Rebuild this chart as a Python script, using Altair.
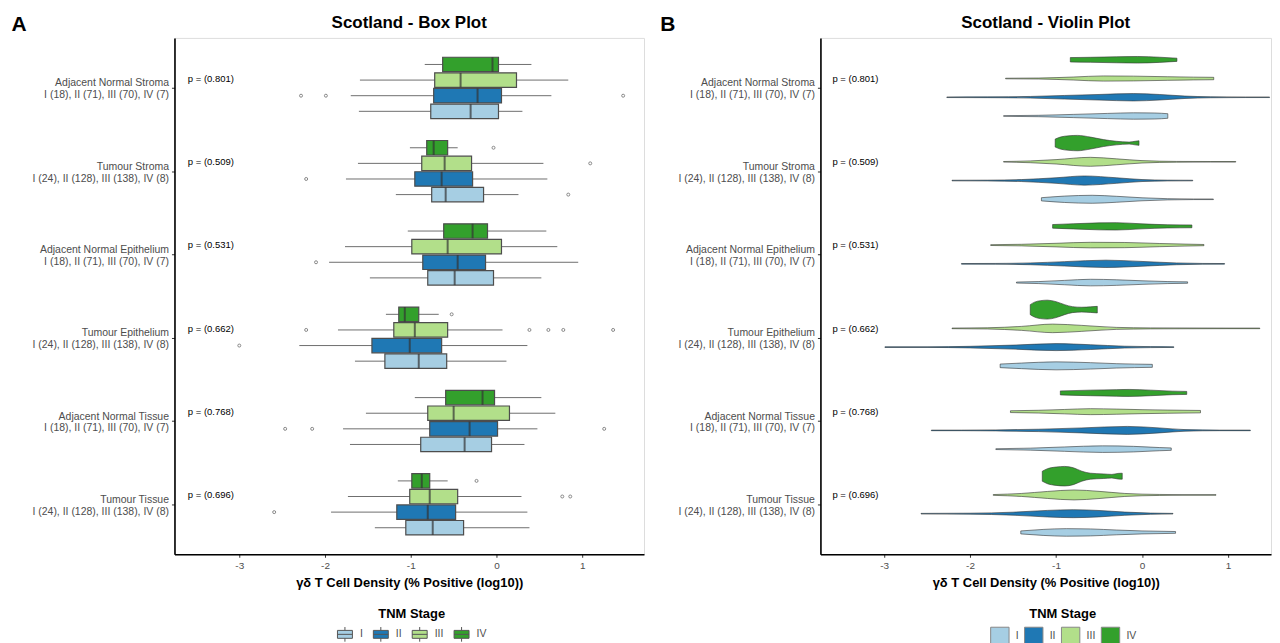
import json
import altair as alt
import pandas as pd

FONT = "Liberation Sans"

categories = ["Adjacent Normal Stroma", "Tumour Stroma", "Adjacent Normal Epithelium",
              "Tumour Epithelium", "Adjacent Normal Tissue", "Tumour Tissue"]
count_labels = ["I (18), II (71), III (70), IV (7)", "I (24), II (128), III (138), IV (8)",
                "I (18), II (71), III (70), IV (7)", "I (24), II (128), III (138), IV (8)",
                "I (18), II (71), III (70), IV (7)", "I (24), II (128), III (138), IV (8)"]
p_values = ["0.801", "0.509", "0.531", "0.662", "0.768", "0.696"]
stages = ["I", "II", "III", "IV"]
stage_colors = ["#a6cee3", "#1f78b4", "#b2df8a", "#33a02c"]
x_ticks = [-3, -2, -1, 0, 1]

# five-number summaries (lower whisker, Q1, median, Q3, upper whisker), stages I, II, III, IV
box_adjacent_normal_stroma = [[-1.605, -0.767, -0.302, 0.023, 0.302], [-1.70, -0.733, -0.221, 0.058, 0.64],
                              [-1.593, -0.721, -0.419, 0.233, 0.837], [-0.837, -0.628, -0.047, 0.023, 0.407]]
box_tumour_stroma = [[-1.174, -0.756, -0.593, -0.151, 0.256], [-1.756, -0.953, -0.640, -0.279, 0.593],
                     [-1.616, -0.872, -0.605, -0.291, 0.547], [-1.01, -0.814, -0.733, -0.57, -0.453]]
box_adjacent_normal_epithelium = [[-1.477, -0.802, -0.488, -0.035, 0.523], [-1.953, -0.860, -0.453, -0.128, 0.953],
                                  [-1.767, -0.988, -0.570, 0.058, 0.709], [-1.035, -0.616, -0.279, -0.105, 0.581]]
box_tumour_epithelium = [[-1.651, -1.302, -0.907, -0.581, 0.116], [-2.30, -1.453, -1.012, -0.640, 0.36],
                         [-1.849, -1.198, -0.953, -0.570, 0.07], [-1.29, -1.14, -1.07, -0.907, -0.674]]
box_adjacent_normal_tissue = [[-1.709, -0.884, -0.372, -0.058, 0.326], [-1.79, -0.779, -0.314, 0.012, 0.477],
                              [-1.523, -0.802, -0.500, 0.151, 0.686], [-0.953, -0.593, -0.163, -0.023, 0.523]]
box_tumour_tissue = [[-1.419, -1.058, -0.744, -0.384, 0.384], [-1.93, -1.163, -0.802, -0.477, 0.36],
                     [-1.733, -1.012, -0.779, -0.453, 0.291], [-1.151, -0.988, -0.872, -0.779, -0.570]]

outlier_category = ["Adjacent Normal Stroma"] * 3 + ["Tumour Stroma"] * 4 + ["Adjacent Normal Epithelium"] \
    + ["Tumour Epithelium"] * 7 + ["Adjacent Normal Tissue"] * 3 + ["Tumour Tissue"] * 4
outlier_stage = ["II", "II", "II", "IV", "III", "II", "I", "II",
                 "IV", "III", "III", "III", "III", "III", "II",
                 "II", "II", "II", "IV", "III", "III", "II"]
outlier_value = [-2.28, -1.99, 1.477, -0.035, 1.093, -2.22, 0.837, -2.105,
                 -0.523, -2.22, 0.384, 0.605, 0.779, 1.36, -3.0,
                 -2.465, -2.15, 1.256, -0.233, 0.767, 0.86, -2.593]

# violin outlines: value positions and kernel density (relative)
violin_adjacent_normal_stroma = {
    "I": ([-1.61, -1.2, -0.8, -0.4, -0.1, 0.15, 0.30], [0.3, 0.7, 1.6, 2.6, 3.2, 3.0, 2.3]),
    "II": ([-2.27, -1.8, -1.3, -0.9, -0.5, -0.1, 0.2, 0.5, 0.8, 1.2, 1.483],
           [0.3, 0.4, 0.8, 1.8, 2.8, 3.7, 2.8, 1.2, 0.5, 0.3, 0.3]),
    "III": ([-1.587, -1.2, -0.8, -0.45, -0.1, 0.3, 0.6, 0.834], [0.3, 0.5, 1.5, 2.6, 2.4, 1.8, 1.4, 1.2]),
    "IV": ([-0.834, -0.6, -0.3, -0.05, 0.2, 0.406], [2.2, 2.5, 3.0, 3.3, 2.6, 1.6]),
}
violin_tumour_stroma = {
    "I": ([-1.17, -0.9, -0.58, -0.3, 0.0, 0.3, 0.6, 0.83], [1.6, 3.2, 4.0, 3.0, 1.5, 0.6, 0.3, 0.3]),
    "II": ([-2.21, -1.8, -1.4, -1.0, -0.67, -0.3, 0.0, 0.3, 0.59], [0.3, 0.4, 1.0, 2.8, 4.6, 2.8, 1.0, 0.4, 0.3]),
    "III": ([-1.61, -1.3, -1.0, -0.6, -0.3, 0.0, 0.4, 0.8, 1.09], [0.3, 0.9, 2.2, 4.5, 3.0, 1.2, 0.4, 0.3, 0.3]),
    "IV": ([-1.01, -0.95, -0.85, -0.75, -0.6, -0.45, -0.3, -0.15, -0.08, -0.035],
           [4.0, 6.0, 7.3, 7.7, 6.0, 3.5, 1.8, 1.0, 1.8, 2.3]),
}
violin_adjacent_normal_epithelium = {
    "I": ([-1.46, -1.2, -0.9, -0.6, -0.3, 0.0, 0.3, 0.53], [0.5, 1.0, 2.2, 3.3, 2.8, 1.8, 1.0, 0.7]),
    "II": ([-2.1, -1.7, -1.3, -0.9, -0.42, 0.0, 0.4, 0.7, 0.96], [0.3, 0.4, 0.9, 2.2, 3.7, 2.4, 0.9, 0.4, 0.3]),
    "III": ([-1.76, -1.4, -1.0, -0.6, -0.2, 0.2, 0.5, 0.72], [0.4, 0.8, 1.8, 2.8, 2.6, 1.6, 1.0, 0.6]),
    "IV": ([-1.04, -0.8, -0.5, -0.3, 0.0, 0.3, 0.58], [1.8, 2.6, 3.5, 3.7, 2.5, 1.6, 1.4]),
}
violin_tumour_epithelium = {
    "I": ([-1.65, -1.4, -1.0, -0.6, -0.3, 0.12], [1.8, 2.8, 4.0, 3.2, 2.2, 1.5]),
    "II": ([-2.99, -2.5, -2.0, -1.5, -1.0, -0.6, -0.2, 0.1, 0.37], [0.3, 0.3, 0.8, 2.0, 3.5, 2.4, 0.9, 0.5, 0.3]),
    "III": ([-2.21, -1.8, -1.4, -1.04, -0.7, -0.3, 0.1, 0.5, 1.0, 1.37],
            [0.3, 0.6, 2.0, 4.3, 3.0, 1.0, 0.5, 0.4, 0.3, 0.3]),
    "IV": ([-1.30, -1.25, -1.18, -1.10, -1.0, -0.9, -0.81, -0.7, -0.6, -0.52],
           [5.0, 7.5, 9.0, 9.5, 8.0, 5.0, 3.0, 2.4, 2.8, 3.3]),
}
violin_adjacent_normal_tissue = {
    "I": ([-1.70, -1.3, -0.9, -0.46, -0.1, 0.2, 0.34], [0.4, 1.0, 2.2, 3.3, 2.8, 1.6, 1.2]),
    "II": ([-2.45, -2.1, -1.7, -1.2, -0.7, -0.17, 0.2, 0.5, 0.9, 1.26],
           [0.3, 0.3, 0.5, 1.2, 2.5, 4.0, 2.5, 0.8, 0.3, 0.3]),
    "III": ([-1.53, -1.2, -0.9, -0.6, -0.3, 0.0, 0.3, 0.68], [0.9, 1.4, 2.2, 3.0, 2.6, 2.0, 1.6, 1.2]),
    "IV": ([-0.95, -0.6, -0.3, -0.15, 0.1, 0.35, 0.52], [2.0, 2.8, 3.3, 3.5, 2.8, 1.8, 1.5]),
}
violin_tumour_tissue = {
    "I": ([-1.41, -1.15, -0.88, -0.6, -0.3, 0.0, 0.39], [1.5, 3.0, 3.8, 3.5, 2.4, 1.5, 0.9]),
    "II": ([-2.57, -2.0, -1.5, -1.1, -0.8, -0.5, -0.2, 0.1, 0.36], [0.3, 0.5, 1.5, 3.3, 4.0, 3.2, 1.6, 0.6, 0.3]),
    "III": ([-1.73, -1.4, -1.1, -0.79, -0.5, -0.2, 0.2, 0.5, 0.86], [0.4, 1.5, 3.5, 5.0, 3.6, 1.5, 0.5, 0.3, 0.3]),
    "IV": ([-1.16, -1.1, -1.0, -0.90, -0.8, -0.7, -0.6, -0.45, -0.35, -0.28, -0.23],
           [5.0, 7.5, 9.2, 9.8, 8.5, 5.0, 3.0, 2.3, 1.8, 2.8, 3.0]),
}

box_stats = dict(zip(categories, [box_adjacent_normal_stroma, box_tumour_stroma, box_adjacent_normal_epithelium,
                                  box_tumour_epithelium, box_adjacent_normal_tissue, box_tumour_tissue]))
violins = dict(zip(categories, [violin_adjacent_normal_stroma, violin_tumour_stroma,
                                violin_adjacent_normal_epithelium, violin_tumour_epithelium,
                                violin_adjacent_normal_tissue, violin_tumour_tissue]))

# ---------- tables ----------
box_rows = []
for ci, cat in enumerate(categories):
    for si, st in enumerate(stages):
        lo, q1, med, q3, hi = box_stats[cat][si]
        box_rows.append(dict(category=cat, stage=st, ci=ci, si=si, lo=lo, q1=q1, med=med, q3=q3, hi=hi))
box_df = pd.DataFrame(box_rows)

out_df = pd.DataFrame({"category": outlier_category, "stage": outlier_stage, "value": outlier_value})
out_df["ci"] = [categories.index(c) for c in out_df["category"]]
out_df["si"] = [stages.index(s) for s in out_df["stage"]]

vio_rows = []
for ci, cat in enumerate(categories):
    for si, st in enumerate(stages):
        xs, ds = violins[cat][st]
        for x, d in zip(xs, ds):
            vio_rows.append(dict(category=cat, stage=st, ci=ci, si=si, value=x, dens=d,
                                 violin=f"{cat}|{st}"))
vio_df = pd.DataFrame(vio_rows)

p_df = pd.DataFrame({"category": categories, "ci": list(range(len(categories))),
                     "p": ["p = (" + p + ")" for p in p_values]})

# ---------- shared encodings ----------
BOX_DODGE = 0.75 / 4
VIOLIN_DODGE = 0.9 / 4
DENS_SCALE = 1 / 83.5
P_X = -3.6

label_lines = [[c, n] for c, n in zip(categories, count_labels)]
y_scale = alt.Scale(domain=[-0.6, len(categories) - 0.4], reverse=True, nice=False, zero=False, padding=0)
y_axis = alt.Axis(values=list(range(len(categories))), labelExpr=json.dumps(label_lines) + "[round(datum.value)]",
                  title=None, grid=False, domainColor="black", domainWidth=1.6, tickColor="#333333",
                  tickSize=3, labelColor="#4d4d4d", labelFontSize=10.5, labelLineHeight=12,
                  labelPadding=3, labelAlign="right", labelBaseline="middle", labelFont=FONT,
                  labelOffset=-5, minExtent=166, maxExtent=166, labelLimit=200)
x_axis = alt.Axis(values=x_ticks, labelExpr="'' + datum.value", title="γδ T Cell Density (% Positive (log10))",
                  grid=False, domainColor="black", domainWidth=1.6, tickColor="#333333", tickSize=3,
                  labelColor="#4d4d4d", labelFontSize=10, labelPadding=3, labelFont=FONT,
                  titleFont=FONT, titleFontSize=13, titleFontWeight="bold", titleColor="black", titlePadding=6)
color_scale = alt.Scale(domain=stages, range=stage_colors)

BOX_GLYPH = "M-1,-0.53H1V0.53H-1Z M-1,0H1 M0,-0.53V-0.98 M0,0.53V0.98"


def legend(symbol, size, stroke, lx, pad, loff):
    return alt.Legend(title="TNM Stage", orient="none", legendX=lx, legendY=572, direction="horizontal",
                      titleAnchor="middle", titleOrient="top", titleFont=FONT, titleFontSize=13,
                      titleFontWeight="bold", titleColor="black", labelFont=FONT, labelColor="#4d4d4d",
                      labelFontSize=10.5, symbolType=symbol, symbolSize=size, symbolStrokeColor=stroke,
                      symbolStrokeWidth=1, symbolOpacity=1, columnPadding=pad, labelOffset=loff,
                      titlePadding=5)


def p_layer(x_scale):
    return alt.Chart(p_df).mark_text(align="left", baseline="middle", dy=-9, fontSize=9.5, font=FONT,
                                     color="black").encode(
        x=alt.X(datum=P_X, type="quantitative", scale=x_scale, axis=x_axis),
        y=alt.Y("ci:Q", scale=y_scale, axis=y_axis),
        text="p:N")


def panel_letter(letter, dx):
    return alt.Chart(pd.DataFrame({"panel": [letter]})).mark_text(
        fontSize=21, fontWeight="bold", font=FONT, align="center", baseline="middle", color="black").encode(
        text="panel:N", x=alt.value(dx), y=alt.value(-13))


def title(text):
    return alt.TitleParams(text, fontSize=17, fontWeight="bold", font=FONT, anchor="middle", color="black",
                           offset=-18)


# ---------- box panel ----------
x_scale_box = alt.Scale(domain=[-3.756, 1.72], nice=False, zero=False, padding=0)
box_base = alt.Chart(box_df).transform_calculate(pos=f"datum.ci + (1.5 - datum.si) * {BOX_DODGE}")

whiskers = box_base.mark_rule(color="#6e6e6e", strokeWidth=1).encode(
    x=alt.X("lo:Q", scale=x_scale_box, axis=x_axis), x2="hi:Q",
    y=alt.Y("pos:Q", scale=y_scale, axis=y_axis))
boxes = box_base.mark_bar(orient="horizontal", size=14.5, stroke="#4d4d4d", strokeWidth=1.2).encode(
    x=alt.X("q1:Q", scale=x_scale_box, axis=x_axis), x2="q3:Q",
    y=alt.Y("pos:Q", scale=y_scale, axis=y_axis),
    color=alt.Color("stage:N", scale=color_scale, legend=legend(BOX_GLYPH, 225, "#555555", 163, 8, 7)))
medians = box_base.mark_tick(orient="vertical", size=14.5, thickness=2, color="#333333").encode(
    x=alt.X("med:Q", scale=x_scale_box, axis=x_axis),
    y=alt.Y("pos:Q", scale=y_scale, axis=y_axis))
outliers = alt.Chart(out_df).transform_calculate(pos=f"datum.ci + (1.5 - datum.si) * {BOX_DODGE}").mark_point(
    shape="circle", filled=False, size=9, color="#555555", strokeWidth=1).encode(
    x=alt.X("value:Q", scale=x_scale_box, axis=x_axis),
    y=alt.Y("pos:Q", scale=y_scale, axis=y_axis))

box_panel = alt.layer(whiskers, boxes, medians, outliers, p_layer(x_scale_box), panel_letter("A", -156)).properties(
    width=471, height=518, title=title("Scotland - Box Plot"))

# ---------- violin panel ----------
x_scale_vio = alt.Scale(domain=[-3.74, 1.50], nice=False, zero=False, padding=0)
violin_areas = alt.Chart(vio_df).transform_calculate(
    center=f"datum.ci + (1.5 - datum.si) * {VIOLIN_DODGE}"
).transform_calculate(
    upper=f"datum.center - datum.dens * {DENS_SCALE}",
    lower=f"datum.center + datum.dens * {DENS_SCALE}"
).mark_area(orient="vertical", interpolate="monotone", stroke="#333333", strokeWidth=0.6, opacity=1).encode(
    x=alt.X("value:Q", scale=x_scale_vio, axis=x_axis),
    y=alt.Y("upper:Q", scale=y_scale, axis=y_axis), y2="lower:Q",
    color=alt.Color("stage:N", scale=color_scale, legend=legend("square", 340, "#888888", 170, 3, 6)),
    detail="violin:N")

violin_panel = alt.layer(violin_areas, p_layer(x_scale_vio), panel_letter("B", -153)).properties(
    width=452, height=518, title=title("Scotland - Violin Plot"))

chart = alt.hconcat(box_panel, violin_panel, spacing=9).resolve_scale(
    color="independent", x="independent").properties(
    padding={"left": 0, "top": 4, "right": 0, "bottom": 0}).configure_view(stroke=None).configure(font=FONT)

chart.save("out.html", embed_options={"renderer": "svg", "actions": False})
